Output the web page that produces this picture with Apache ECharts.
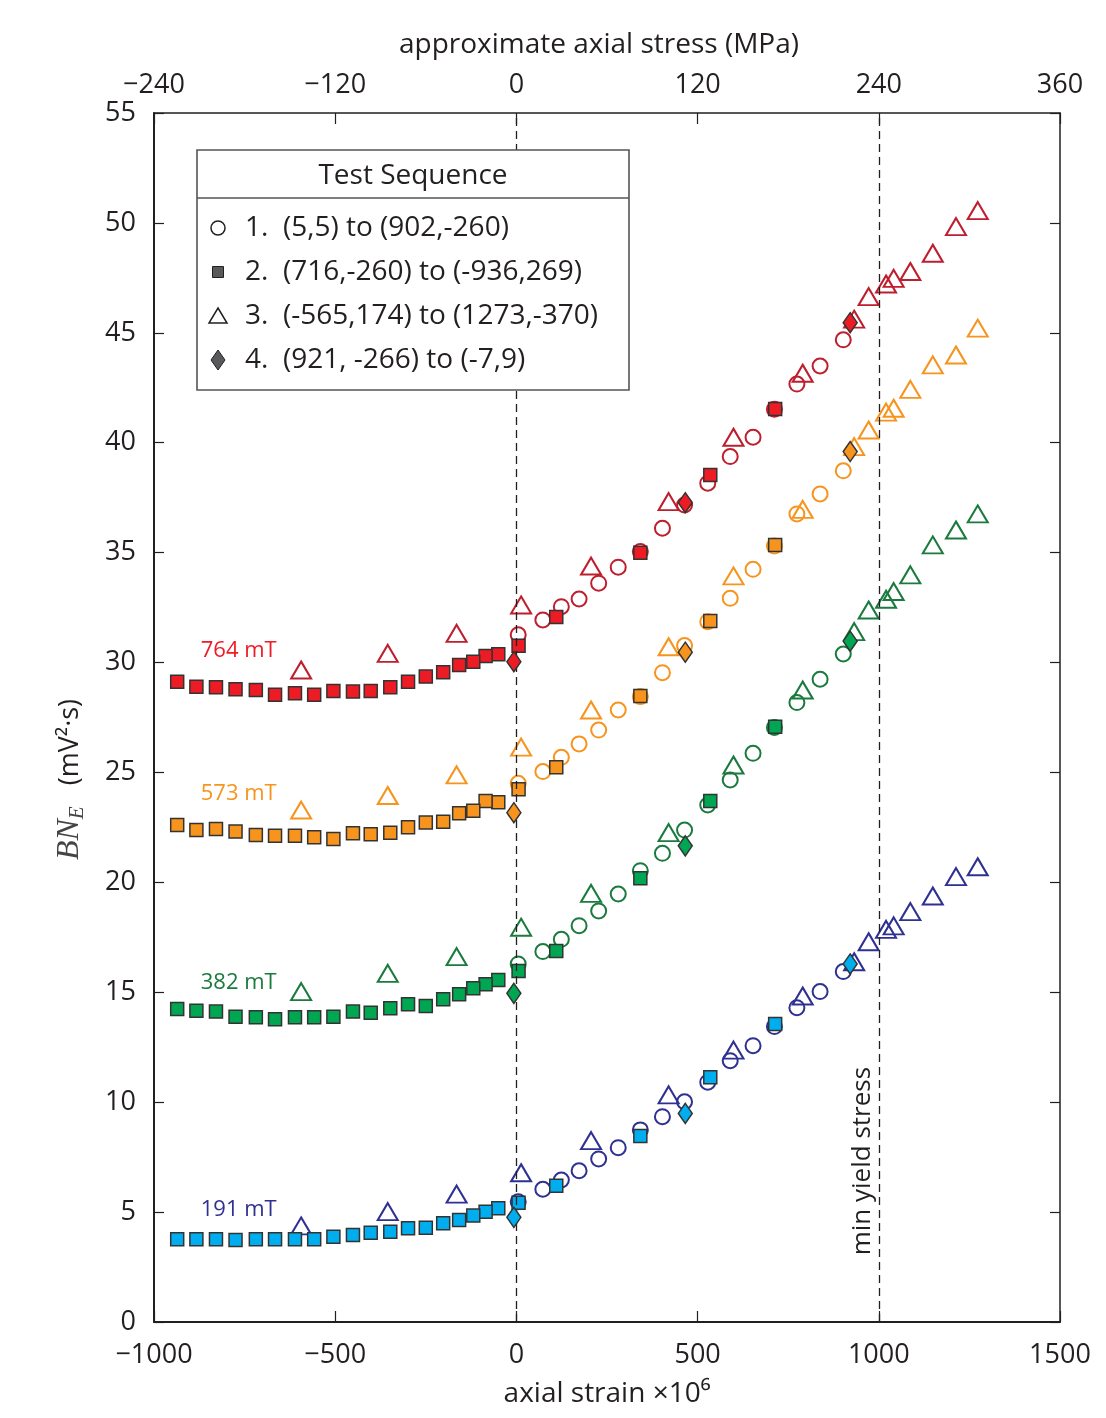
<!DOCTYPE html>
<html><head><meta charset="utf-8">
<script src="https://cdn.jsdelivr.net/npm/echarts@6/dist/echarts.min.js"></script>
<style>html,body{margin:0;padding:0;background:#fff}#c{width:1106px;height:1418px}</style>
</head><body><div id="c"></div>
<script>
// ---- DATA ----
// Test 1: circles, strain 5 -> 902
const strain1 = [5, 73, 124, 173, 227, 281, 342, 403, 464, 528, 590, 653, 712, 774, 838, 902];
const t1_764 = [31.26, 31.94, 32.54, 32.89, 33.61, 34.34, 35.05, 36.11, 37.17, 38.16, 39.37, 40.25, 41.52, 42.67, 43.49, 44.68];
const t1_573 = [24.51, 25.04, 25.69, 26.30, 26.93, 27.84, 28.45, 29.54, 30.77, 31.86, 32.92, 34.24, 35.30, 36.76, 37.67, 38.72];
const t1_382 = [16.29, 16.85, 17.41, 18.03, 18.70, 19.47, 20.53, 21.32, 22.38, 23.52, 24.66, 25.87, 27.05, 28.18, 29.24, 30.39];
const t1_191 = [5.47, 6.04, 6.46, 6.88, 7.42, 7.93, 8.74, 9.34, 10.02, 10.91, 11.89, 12.57, 13.44, 14.30, 15.03, 15.94];
// Test 2: squares, strain 716 -> -936
const strain2 = [714, 535, 342, 110, 6, -50, -85, -119, -158, -202, -250, -299, -348, -402, -451, -505, -558, -611, -666, -719, -775, -829, -883, -936];
const t2_764 = [41.54, 38.53, 35.00, 32.07, 30.76, 30.38, 30.30, 30.04, 29.89, 29.56, 29.36, 29.13, 28.88, 28.71, 28.68, 28.71, 28.53, 28.60, 28.53, 28.75, 28.79, 28.88, 28.90, 29.13];
const t2_573 = [35.35, 31.89, 28.48, 25.24, 24.24, 23.64, 23.70, 23.26, 23.14, 22.76, 22.72, 22.51, 22.26, 22.19, 22.23, 21.97, 22.05, 22.12, 22.12, 22.16, 22.31, 22.43, 22.38, 22.61];
const t2_382 = [27.08, 23.70, 20.19, 16.88, 15.97, 15.56, 15.36, 15.18, 14.91, 14.68, 14.38, 14.45, 14.27, 14.07, 14.12, 13.89, 13.86, 13.86, 13.77, 13.86, 13.89, 14.12, 14.16, 14.24];
const t2_191 = [13.56, 11.13, 8.46, 6.20, 5.43, 5.17, 5.02, 4.84, 4.64, 4.49, 4.29, 4.26, 4.11, 4.06, 3.96, 3.88, 3.76, 3.76, 3.76, 3.76, 3.73, 3.76, 3.76, 3.76];
// Test 3: triangles, strain -565 -> 1273
const strain3 = [-594, -355, -165, 13, 206, 420, 599, 790, 932, 972, 1020, 1041, 1087, 1149, 1213, 1273];
const t3_764 = [29.66, 30.42, 31.33, 32.62, 34.39, 37.32, 40.25, 43.16, 45.62, 46.65, 47.22, 47.48, 47.79, 48.62, 49.83, 50.56];
const t3_573 = [23.29, 23.95, 24.89, 26.15, 27.84, 30.72, 33.94, 36.97, 39.82, 40.58, 41.39, 41.57, 42.43, 43.54, 43.99, 45.21];
const t3_382 = [15.03, 15.86, 16.62, 17.96, 19.50, 22.26, 25.34, 28.75, 31.41, 32.39, 32.88, 33.23, 33.99, 35.35, 36.03, 36.76];
const t3_191 = [4.37, 5.02, 5.82, 6.79, 8.25, 10.33, 12.37, 14.83, 16.39, 17.30, 17.86, 18.02, 18.67, 19.38, 20.26, 20.71];
// Test 4: diamonds, strain 921 -> -7
const strain4 = [921, 466, -7];
const t4_764 = [45.46, 37.27, 30.04];
const t4_573 = [39.60, 30.47, 23.17];
const t4_382 = [30.97, 21.66, 14.95];
const t4_191 = [16.29, 9.49, 4.76];

const fields = ['764 mT', '573 mT', '382 mT', '191 mT'];
const legendItems = ['1.  (5,5) to (902,-260)', '2.  (716,-260) to (-936,269)', '3.  (-565,174) to (1273,-370)', '4.  (921, -266) to (-7,9)'];
const xTicks = { min: -1000, max: 1500, step: 500 };
const stressTicks = { min: -240, max: 360, step: 120 };
const yTicks = { min: 0, max: 55, step: 5 };
const refLines = [0, 1000];

// ---- STYLE ----
const fillCol = ['#ED1C24', '#F7941D', '#00A651', '#00AEEF'];
const lineCol = ['#BE1E2D', '#F7941D', '#1B7A3E', '#2E3192'];
const labelCol = ['#ED1C24', '#F7941D', '#1B7A3E', '#2E3192'];
const ink = '#231f20';
const FONT = '"Open Sans", "Noto Sans", sans-serif';

const t1 = [t1_764, t1_573, t1_382, t1_191];
const t2 = [t2_764, t2_573, t2_382, t2_191];
const t3 = [t3_764, t3_573, t3_382, t3_191];
const t4 = [t4_764, t4_573, t4_382, t4_191];

function pts(xs, ys) { return xs.map((x, i) => [x, ys[i]]); }
const minus = v => String(v).replace('-', '\u2212');

const series = [];
series.push({
  type: 'scatter', data: [], silent: true, z: 1,
  markLine: {
    silent: true, symbol: 'none', animation: false,
    label: { show: false },
    lineStyle: { color: ink, width: 1.3, type: [8, 5] },
    data: refLines.map(v => ({ xAxis: v }))
  }
});
fields.forEach((f, k) => {
  series.push({ type: 'scatter', name: f + ' t1', data: pts(strain1, t1[k]), symbol: 'circle', symbolSize: 15,
    itemStyle: { opacity: 1, color: 'rgba(255,255,255,0)', borderColor: lineCol[k], borderWidth: 2 }, silent: true, z: 2 });
});
fields.forEach((f, k) => {
  series.push({ type: 'scatter', name: f + ' t3', data: pts(strain3, t3[k]), symbol: 'triangle', symbolSize: [20, 17],
    itemStyle: { opacity: 1, color: 'rgba(255,255,255,0)', borderColor: lineCol[k], borderWidth: 2 }, silent: true, z: 3 });
});
fields.forEach((f, k) => {
  series.push({ type: 'scatter', name: f + ' t2', data: pts(strain2, t2[k]), symbol: 'rect', symbolSize: 13,
    itemStyle: { opacity: 1, color: fillCol[k], borderColor: '#333', borderWidth: 1.5 }, silent: true, z: 4 });
});
fields.forEach((f, k) => {
  series.push({ type: 'scatter', name: f + ' t4', data: pts(strain4, t4[k]), symbol: 'diamond', symbolSize: [14, 20],
    itemStyle: { opacity: 1, color: fillCol[k], borderColor: '#333', borderWidth: 1.5 }, silent: true, z: 5 });
});

const axisLabelStyle = { fontSize: 27, color: ink, fontFamily: FONT };

const option = {
  animation: false,
  backgroundColor: '#fff',
  grid: { left: 154, right: 46, top: 113, bottom: 96 },
  xAxis: [{
    type: 'value', position: 'bottom', min: xTicks.min, max: xTicks.max, interval: xTicks.step,
    axisLine: { onZero: false, lineStyle: { color: ink, width: 2 } },
    axisTick: { inside: true, length: 11, lineStyle: { color: ink, width: 1.2 } },
    axisLabel: Object.assign({ margin: 20, formatter: minus }, axisLabelStyle),
    splitLine: { show: false },
    name: 'axial strain \u00d710\u2076', nameLocation: 'middle', nameGap: 58,
    nameTextStyle: { fontSize: 28, color: ink, fontFamily: FONT }
  }, {
    type: 'value', position: 'top', min: stressTicks.min, max: stressTicks.max, interval: stressTicks.step,
    axisLine: { onZero: false, lineStyle: { color: ink, width: 1.5 } },
    axisTick: { inside: true, length: 11, lineStyle: { color: ink, width: 1.2 } },
    axisLabel: Object.assign({ margin: 14, formatter: minus }, axisLabelStyle),
    splitLine: { show: false },
    name: 'approximate axial stress (MPa)', nameLocation: 'middle', nameGap: 54,
    nameTextStyle: { fontSize: 28, color: ink, fontFamily: FONT, padding: [0, 16, 0, 0] }
  }],
  yAxis: [{
    type: 'value', position: 'left', min: yTicks.min, max: yTicks.max, interval: yTicks.step,
    axisLine: { onZero: false, lineStyle: { color: ink, width: 2 } },
    axisTick: { inside: true, length: 10, lineStyle: { color: ink, width: 1.2 } },
    axisLabel: Object.assign({ margin: 18 }, axisLabelStyle),
    splitLine: { show: false },
    name: '{m|BN}{s|E}{u|   (mV\u00b2\u00b7s)}{sp|}', nameLocation: 'middle', nameGap: 66, nameRotate: 90,
    nameTextStyle: {
      rich: {
        m: { fontFamily: '"Liberation Serif", serif', fontStyle: 'italic', fontSize: 32, color: '#444', lineHeight: 36 },
        s: { fontFamily: '"Liberation Serif", serif', fontStyle: 'italic', fontSize: 21, color: '#444', lineHeight: 36, verticalAlign: 'bottom', padding: [10, 0, 0, 0] },
        u: { fontFamily: FONT, fontSize: 27, color: ink, lineHeight: 36 },
        sp: { width: 124 }
      }
    }
  }, {
    type: 'value', position: 'right', min: yTicks.min, max: yTicks.max, interval: yTicks.step,
    axisLine: { show: true, onZero: false, lineStyle: { color: ink, width: 1.5 } },
    axisTick: { show: true, inside: true, length: 10, lineStyle: { color: ink, width: 1.2 } },
    axisLabel: { show: false },
    splitLine: { show: false }
  }],
  series: series
};

const chart = echarts.init(document.getElementById('c'), null, { renderer: 'canvas' });
chart.setOption(option);

// ---- annotations (anchored in data coordinates) ----
const fieldLabelAnchor = [[-871, 30.53], [-871, 24.02], [-871, 15.42], [-871, 5.10]];
const yieldLabelAnchor = [954, 7.32];
const toPx = p => chart.convertToPixel({ xAxisIndex: 0, yAxisIndex: 0 }, p);

const graphics = [];
fields.forEach((f, k) => {
  const p = toPx(fieldLabelAnchor[k]);
  graphics.push({ type: 'text', x: p[0], y: p[1], z: 50,
    style: { text: f, fill: labelCol[k], font: '22px ' + FONT, textAlign: 'left', textVerticalAlign: 'middle' } });
});
const yp = toPx(yieldLabelAnchor);
graphics.push({ type: 'text', x: yp[0], y: yp[1], rotation: Math.PI / 2, z: 50,
  style: { text: 'min yield stress', fill: ink, font: '26px ' + FONT, textAlign: 'center', textVerticalAlign: 'middle' } });

// legend box
const LX = 197, LY = 150, LW = 432, LH = 240, LSEP = 48;
graphics.push({ type: 'rect', z: 100, shape: { x: LX, y: LY, width: LW, height: LH },
  style: { fill: '#fff', stroke: '#555', lineWidth: 1.6 } });
graphics.push({ type: 'line', z: 101, shape: { x1: LX, y1: LY + LSEP, x2: LX + LW, y2: LY + LSEP },
  style: { stroke: '#555', lineWidth: 1.4 } });
graphics.push({ type: 'text', z: 101, x: LX + LW / 2, y: LY + 26,
  style: { text: 'Test Sequence', fill: ink, font: '28px ' + FONT, textAlign: 'center', textVerticalAlign: 'middle' } });
const sx = 218, rowY = [228, 272, 316, 360];
graphics.push({ type: 'circle', z: 101, shape: { cx: sx, cy: rowY[0], r: 7 }, style: { fill: '#fff', stroke: ink, lineWidth: 1.5 } });
graphics.push({ type: 'rect', z: 101, shape: { x: sx - 5.5, y: rowY[1] - 5.5, width: 11, height: 11 }, style: { fill: '#58595b', stroke: ink, lineWidth: 1 } });
graphics.push({ type: 'polygon', z: 101, shape: { points: [[sx, rowY[2] - 8], [sx + 9, rowY[2] + 7], [sx - 9, rowY[2] + 7]] }, style: { fill: '#fff', stroke: ink, lineWidth: 1.5 } });
graphics.push({ type: 'polygon', z: 101, shape: { points: [[sx, rowY[3] - 10], [sx + 7, rowY[3]], [sx, rowY[3] + 10], [sx - 7, rowY[3]]] }, style: { fill: '#58595b', stroke: ink, lineWidth: 1 } });
legendItems.forEach((t, i) => {
  graphics.push({ type: 'text', z: 101, x: 245, y: rowY[i],
    style: { text: t, fill: ink, font: '28px ' + FONT, textAlign: 'left', textVerticalAlign: 'middle' } });
});

chart.setOption({ graphic: graphics });
</script></body></html>
